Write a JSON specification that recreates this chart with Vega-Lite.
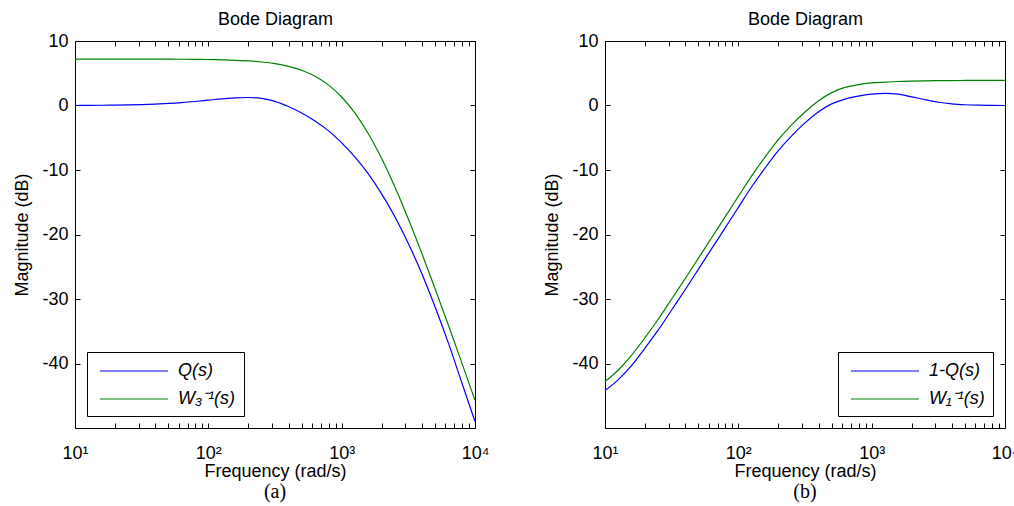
{
  "$schema": "https://vega.github.io/schema/vega-lite/v6.json",
  "background": "white",
  "padding": {"left": 13, "top": 10, "right": 0, "bottom": 0},
  "bounds": "flush",
  "spacing": 130,
  "config": {
    "font": "Liberation Sans",
    "view": {"stroke": "black", "strokeWidth": 1},
    "axis": {"grid": false, "labelFont": "Liberation Sans", "titleFont": "Liberation Sans", "labelColor": "black", "titleColor": "black", "tickColor": "black", "titleFontWeight": "normal", "domain": false},
    "legend": {"labelFont": "Liberation Sans"}
  },
  "hconcat": [
    {
      "width": 400,
      "height": 387,
      "title": {"text": "(a)", "orient": "bottom", "font": "Liberation Serif", "fontSize": 20, "fontWeight": "normal", "color": "black", "offset": 2},
      "data": {"values": [
        {"s": "Q(s)", "f": 10, "db": 0}, {"s": "Q(s)", "f": 12.59, "db": 0.02}, {"s": "Q(s)", "f": 15.85, "db": 0.04}, {"s": "Q(s)", "f": 19.95, "db": 0.06}, {"s": "Q(s)", "f": 25.12, "db": 0.1}, {"s": "Q(s)", "f": 31.62, "db": 0.15}, {"s": "Q(s)", "f": 39.81, "db": 0.22}, {"s": "Q(s)", "f": 50.12, "db": 0.32}, {"s": "Q(s)", "f": 63.1, "db": 0.45}, {"s": "Q(s)", "f": 79.43, "db": 0.62}, {"s": "Q(s)", "f": 100, "db": 0.82}, {"s": "Q(s)", "f": 125.9, "db": 1.02}, {"s": "Q(s)", "f": 158.5, "db": 1.18}, {"s": "Q(s)", "f": 199.5, "db": 1.24}, {"s": "Q(s)", "f": 251.2, "db": 1.1}, {"s": "Q(s)", "f": 316.2, "db": 0.65}, {"s": "Q(s)", "f": 398.1, "db": -0.15}, {"s": "Q(s)", "f": 501.2, "db": -1.15}, {"s": "Q(s)", "f": 631, "db": -2.4}, {"s": "Q(s)", "f": 794.3, "db": -3.9}, {"s": "Q(s)", "f": 1000, "db": -5.8}, {"s": "Q(s)", "f": 1259, "db": -8}, {"s": "Q(s)", "f": 1585, "db": -10.6}, {"s": "Q(s)", "f": 1995, "db": -13.7}, {"s": "Q(s)", "f": 2512, "db": -17.3}, {"s": "Q(s)", "f": 3162, "db": -21.4}, {"s": "Q(s)", "f": 3981, "db": -26}, {"s": "Q(s)", "f": 5012, "db": -31.2}, {"s": "Q(s)", "f": 6310, "db": -36.8}, {"s": "Q(s)", "f": 7943, "db": -42.9}, {"s": "Q(s)", "f": 10000, "db": -49},
        {"s": "W₃⁻¹(s)", "f": 10, "db": 7.2}, {"s": "W₃⁻¹(s)", "f": 12.59, "db": 7.2}, {"s": "W₃⁻¹(s)", "f": 15.85, "db": 7.2}, {"s": "W₃⁻¹(s)", "f": 19.95, "db": 7.2}, {"s": "W₃⁻¹(s)", "f": 25.12, "db": 7.2}, {"s": "W₃⁻¹(s)", "f": 31.62, "db": 7.19}, {"s": "W₃⁻¹(s)", "f": 39.81, "db": 7.19}, {"s": "W₃⁻¹(s)", "f": 50.12, "db": 7.18}, {"s": "W₃⁻¹(s)", "f": 63.1, "db": 7.17}, {"s": "W₃⁻¹(s)", "f": 79.43, "db": 7.15}, {"s": "W₃⁻¹(s)", "f": 100, "db": 7.13}, {"s": "W₃⁻¹(s)", "f": 125.9, "db": 7.08}, {"s": "W₃⁻¹(s)", "f": 158.5, "db": 7.01}, {"s": "W₃⁻¹(s)", "f": 199.5, "db": 6.91}, {"s": "W₃⁻¹(s)", "f": 251.2, "db": 6.74}, {"s": "W₃⁻¹(s)", "f": 316.2, "db": 6.48}, {"s": "W₃⁻¹(s)", "f": 398.1, "db": 6.07}, {"s": "W₃⁻¹(s)", "f": 501.2, "db": 5.46}, {"s": "W₃⁻¹(s)", "f": 631, "db": 4.53}, {"s": "W₃⁻¹(s)", "f": 794.3, "db": 3.2}, {"s": "W₃⁻¹(s)", "f": 1000, "db": 1.32}, {"s": "W₃⁻¹(s)", "f": 1259, "db": -1.19}, {"s": "W₃⁻¹(s)", "f": 1585, "db": -4.38}, {"s": "W₃⁻¹(s)", "f": 1995, "db": -8.23}, {"s": "W₃⁻¹(s)", "f": 2512, "db": -12.68}, {"s": "W₃⁻¹(s)", "f": 3162, "db": -17.59}, {"s": "W₃⁻¹(s)", "f": 3981, "db": -22.85}, {"s": "W₃⁻¹(s)", "f": 5012, "db": -28.36}, {"s": "W₃⁻¹(s)", "f": 6310, "db": -34.04}, {"s": "W₃⁻¹(s)", "f": 7943, "db": -39.83}, {"s": "W₃⁻¹(s)", "f": 10000, "db": -45.71}
      ]},
      "layer": [
        {
          "mark": {"type": "line", "strokeWidth": 1.2, "interpolate": "monotone"},
          "encoding": {
            "x": {"field": "f", "type": "quantitative", "scale": {"type": "log", "domain": [10, 10000]},
              "axis": {"orient": "bottom", "offset": -5, "values": [10,20,30,40,50,60,70,80,90,100,200,300,400,500,600,700,800,900,1000,2000,3000,4000,5000,6000,7000,8000,9000,10000],
                "labelExpr": "datum.value == 10 ? '10¹' : datum.value == 100 ? '10²' : datum.value == 1000 ? '10³' : datum.value == 10000 ? '10⁴' : ''",
                "labelOverlap": false, "labelFlush": false, "tickSize": 5, "labelFontSize": 18, "labelPadding": 16,
                "title": "Frequency (rad/s)", "titleFontSize": 18, "titlePadding": 0}},
            "y": {"field": "db", "type": "quantitative", "scale": {"domain": [-50, 10], "nice": false, "zero": false},
              "axis": {"orient": "left", "offset": -5, "values": [-40,-30,-20,-10,0,10], "labelExpr": "'' + datum.value", "tickSize": 5, "labelFontSize": 18, "labelPadding": 7,
                "title": "Magnitude (dB)", "titleFontSize": 18, "titlePadding": 10}},
            "color": {"field": "s", "type": "nominal", "scale": {"domain": ["Q(s)", "W₃⁻¹(s)"], "range": ["#0000ff", "#008000"]},
              "legend": {"orient": "bottom-left", "offset": 12, "title": null, "strokeColor": "black", "fillColor": "white", "padding": 8,
                "symbolType": "M-3.4,0L3.4,0", "symbolSize": 400, "symbolStrokeWidth": 1.2, "symbolOffset": 28,
                "labelFontSize": 18, "labelFontStyle": "italic", "labelColor": "black", "labelOffset": 33, "rowPadding": 8, "cornerRadius": 0}}
          }
        },
        {
          "mark": {"type": "line", "opacity": 0},
          "encoding": {
            "x": {"field": "f", "type": "quantitative",
              "axis": {"orient": "top", "offset": -5, "values": [10,20,30,40,50,60,70,80,90,100,200,300,400,500,600,700,800,900,1000,2000,3000,4000,5000,6000,7000,8000,9000,10000],
                "labels": false, "tickSize": 5, "title": "Bode Diagram", "titleFontSize": 18, "titlePadding": 12}},
            "y": {"field": "db", "type": "quantitative",
              "axis": {"orient": "right", "offset": -5, "values": [-40,-30,-20,-10,0,10], "labels": false, "tickSize": 5, "title": null}}
          }
        }
      ],
      "resolve": {"axis": {"x": "independent", "y": "independent"}}
    },
    {
      "width": 400,
      "height": 387,
      "title": {"text": "(b)", "orient": "bottom", "font": "Liberation Serif", "fontSize": 20, "fontWeight": "normal", "color": "black", "offset": 2},
      "data": {"values": [
        {"s": "1-Q(s)", "f": 10, "db": -44.2}, {"s": "1-Q(s)", "f": 12.59, "db": -42.5}, {"s": "1-Q(s)", "f": 15.85, "db": -40.3}, {"s": "1-Q(s)", "f": 19.95, "db": -37.6}, {"s": "1-Q(s)", "f": 25.12, "db": -34.8}, {"s": "1-Q(s)", "f": 31.62, "db": -31.7}, {"s": "1-Q(s)", "f": 39.81, "db": -28.6}, {"s": "1-Q(s)", "f": 50.12, "db": -25.4}, {"s": "1-Q(s)", "f": 63.1, "db": -22.2}, {"s": "1-Q(s)", "f": 79.43, "db": -19}, {"s": "1-Q(s)", "f": 100, "db": -15.8}, {"s": "1-Q(s)", "f": 125.9, "db": -12.6}, {"s": "1-Q(s)", "f": 158.5, "db": -9.7}, {"s": "1-Q(s)", "f": 199.5, "db": -7}, {"s": "1-Q(s)", "f": 251.2, "db": -4.7}, {"s": "1-Q(s)", "f": 316.2, "db": -2.7}, {"s": "1-Q(s)", "f": 398.1, "db": -1}, {"s": "1-Q(s)", "f": 501.2, "db": 0.25}, {"s": "1-Q(s)", "f": 631, "db": 1}, {"s": "1-Q(s)", "f": 794.3, "db": 1.45}, {"s": "1-Q(s)", "f": 1000, "db": 1.75}, {"s": "1-Q(s)", "f": 1259, "db": 1.88}, {"s": "1-Q(s)", "f": 1585, "db": 1.75}, {"s": "1-Q(s)", "f": 1995, "db": 1.35}, {"s": "1-Q(s)", "f": 2512, "db": 0.9}, {"s": "1-Q(s)", "f": 3162, "db": 0.5}, {"s": "1-Q(s)", "f": 3981, "db": 0.25}, {"s": "1-Q(s)", "f": 5012, "db": 0.12}, {"s": "1-Q(s)", "f": 6310, "db": 0.05}, {"s": "1-Q(s)", "f": 7943, "db": 0.02}, {"s": "1-Q(s)", "f": 10000, "db": 0},
        {"s": "W₁⁻¹(s)", "f": 10, "db": -42.8}, {"s": "W₁⁻¹(s)", "f": 12.59, "db": -41}, {"s": "W₁⁻¹(s)", "f": 15.85, "db": -38.7}, {"s": "W₁⁻¹(s)", "f": 19.95, "db": -36}, {"s": "W₁⁻¹(s)", "f": 25.12, "db": -33.1}, {"s": "W₁⁻¹(s)", "f": 31.62, "db": -30}, {"s": "W₁⁻¹(s)", "f": 39.81, "db": -26.9}, {"s": "W₁⁻¹(s)", "f": 50.12, "db": -23.7}, {"s": "W₁⁻¹(s)", "f": 63.1, "db": -20.5}, {"s": "W₁⁻¹(s)", "f": 79.43, "db": -17.3}, {"s": "W₁⁻¹(s)", "f": 100, "db": -14.1}, {"s": "W₁⁻¹(s)", "f": 125.9, "db": -10.9}, {"s": "W₁⁻¹(s)", "f": 158.5, "db": -8}, {"s": "W₁⁻¹(s)", "f": 199.5, "db": -5.3}, {"s": "W₁⁻¹(s)", "f": 251.2, "db": -3}, {"s": "W₁⁻¹(s)", "f": 316.2, "db": -1}, {"s": "W₁⁻¹(s)", "f": 398.1, "db": 0.7}, {"s": "W₁⁻¹(s)", "f": 501.2, "db": 2}, {"s": "W₁⁻¹(s)", "f": 631, "db": 2.8}, {"s": "W₁⁻¹(s)", "f": 794.3, "db": 3.25}, {"s": "W₁⁻¹(s)", "f": 1000, "db": 3.5}, {"s": "W₁⁻¹(s)", "f": 1259, "db": 3.62}, {"s": "W₁⁻¹(s)", "f": 1585, "db": 3.72}, {"s": "W₁⁻¹(s)", "f": 1995, "db": 3.78}, {"s": "W₁⁻¹(s)", "f": 2512, "db": 3.82}, {"s": "W₁⁻¹(s)", "f": 3162, "db": 3.85}, {"s": "W₁⁻¹(s)", "f": 3981, "db": 3.87}, {"s": "W₁⁻¹(s)", "f": 5012, "db": 3.88}, {"s": "W₁⁻¹(s)", "f": 6310, "db": 3.89}, {"s": "W₁⁻¹(s)", "f": 7943, "db": 3.9}, {"s": "W₁⁻¹(s)", "f": 10000, "db": 3.9}
      ]},
      "layer": [
        {
          "mark": {"type": "line", "strokeWidth": 1.2, "interpolate": "monotone"},
          "encoding": {
            "x": {"field": "f", "type": "quantitative", "scale": {"type": "log", "domain": [10, 10000]},
              "axis": {"orient": "bottom", "offset": -5, "values": [10,20,30,40,50,60,70,80,90,100,200,300,400,500,600,700,800,900,1000,2000,3000,4000,5000,6000,7000,8000,9000,10000],
                "labelExpr": "datum.value == 10 ? '10¹' : datum.value == 100 ? '10²' : datum.value == 1000 ? '10³' : datum.value == 10000 ? '10⁴' : ''",
                "labelOverlap": false, "labelFlush": false, "tickSize": 5, "labelFontSize": 18, "labelPadding": 16,
                "title": "Frequency (rad/s)", "titleFontSize": 18, "titlePadding": 0}},
            "y": {"field": "db", "type": "quantitative", "scale": {"domain": [-50, 10], "nice": false, "zero": false},
              "axis": {"orient": "left", "offset": -5, "values": [-40,-30,-20,-10,0,10], "labelExpr": "'' + datum.value", "tickSize": 5, "labelFontSize": 18, "labelPadding": 7,
                "title": "Magnitude (dB)", "titleFontSize": 18, "titlePadding": 10}},
            "color": {"field": "s", "type": "nominal", "scale": {"domain": ["1-Q(s)", "W₁⁻¹(s)"], "range": ["#0000ff", "#008000"]},
              "legend": {"orient": "bottom-right", "offset": 12, "title": null, "strokeColor": "black", "fillColor": "white", "padding": 8,
                "symbolType": "M-3.4,0L3.4,0", "symbolSize": 400, "symbolStrokeWidth": 1.2, "symbolOffset": 28,
                "labelFontSize": 18, "labelFontStyle": "italic", "labelColor": "black", "labelOffset": 33, "rowPadding": 8, "cornerRadius": 0}}
          }
        },
        {
          "mark": {"type": "line", "opacity": 0},
          "encoding": {
            "x": {"field": "f", "type": "quantitative",
              "axis": {"orient": "top", "offset": -5, "values": [10,20,30,40,50,60,70,80,90,100,200,300,400,500,600,700,800,900,1000,2000,3000,4000,5000,6000,7000,8000,9000,10000],
                "labels": false, "tickSize": 5, "title": "Bode Diagram", "titleFontSize": 18, "titlePadding": 12}},
            "y": {"field": "db", "type": "quantitative",
              "axis": {"orient": "right", "offset": -5, "values": [-40,-30,-20,-10,0,10], "labels": false, "tickSize": 5, "title": null}}
          }
        }
      ],
      "resolve": {"axis": {"x": "independent", "y": "independent"}}
    }
  ],
  "resolve": {"scale": {"color": "independent"}, "legend": {"color": "independent"}}
}
